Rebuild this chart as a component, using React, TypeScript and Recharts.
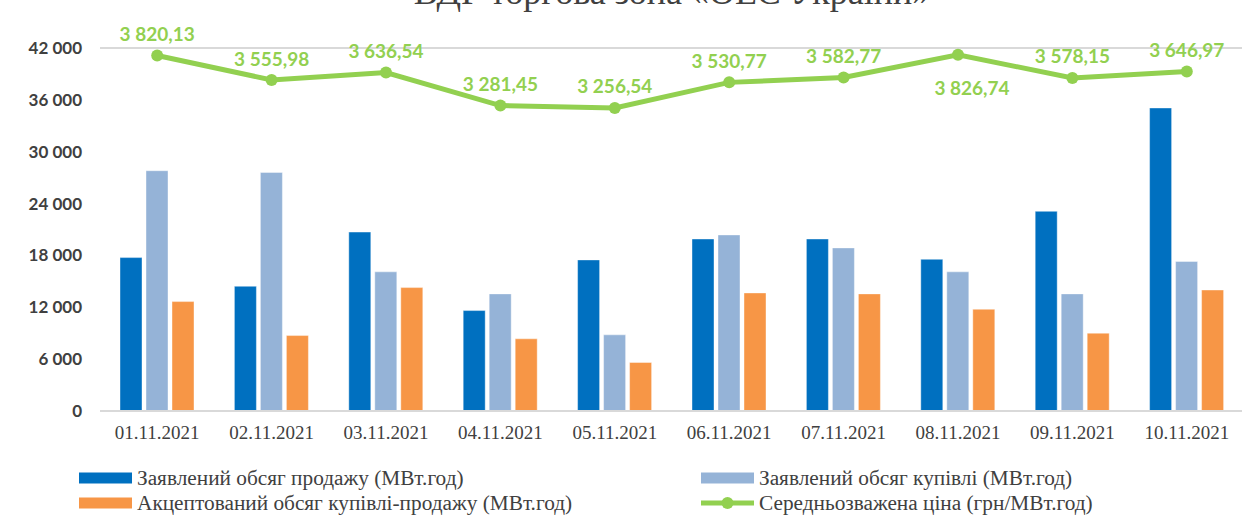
import React from "react"
import { ComposedChart, Bar, Line, XAxis, YAxis, CartesianGrid, Legend, LabelList } from "recharts"

const categories = [
  "01.11.2021",
  "02.11.2021",
  "03.11.2021",
  "04.11.2021",
  "05.11.2021",
  "06.11.2021",
  "07.11.2021",
  "08.11.2021",
  "09.11.2021",
  "10.11.2021",
]

// МВт.год
const salesDeclared = [17750, 14430, 20700, 11620, 17480, 19900, 19900, 17550, 23100, 35060]
const purchaseDeclared = [27800, 27600, 16100, 13550, 8810, 20370, 18870, 16100, 13550, 17300]
const accepted = [12660, 8730, 14280, 8350, 5610, 13660, 13550, 11770, 9000, 14000]

// грн/МВт.год
const avgPrice = [3820.13, 3555.98, 3636.54, 3281.45, 3256.54, 3530.77, 3582.77, 3826.74, 3578.15, 3646.97]

const leftTicks = [0, 6000, 12000, 18000, 24000, 30000, 36000, 42000]

const seriesNames = [
  "Заявлений обсяг продажу (МВт.год)",
  "Заявлений обсяг купівлі (МВт.год)",
  "Акцептований обсяг купівлі-продажу (МВт.год)",
  "Середньозважена ціна (грн/МВт.год)",
]

const title = "ВДР торгова зона «ОЕС України»"

const COLORS = {
  sales: "#0070C0",
  purchase: "#95B3D7",
  accepted: "#F79646",
  price: "#92D050",
}

const chartData = categories.map((date, i) => ({
  date,
  sales: salesDeclared[i],
  purchase: purchaseDeclared[i],
  accepted: accepted[i],
  price: avgPrice[i],
}))

const fmt = (v: number, decimals = 0) => {
  const [intPart, frac] = v.toFixed(decimals).split(".")
  const grouped = intPart.replace(/\B(?=(\d{3})+(?!\d))/g, " ")
  return frac ? `${grouped},${frac}` : grouped
}

const PriceLabel = (props: any) => {
  const { x, y, value, index } = props
  // the 08.11 label sits under its point
  const below = index === 7
  return (
    <text
      x={x + (below ? 14 : 0)}
      y={below ? y + 33 : y - 22}
      textAnchor="middle"
      dominantBaseline="central"
      fill={COLORS.price}
      fontFamily="Lato, sans-serif"
      fontWeight={700}
      fontSize={19}
    >
      {fmt(value, 2)}
    </text>
  )
}

const legendColumns = [79, 701]
const legendRows = [27, 52]

const ChartLegend = (props: any) => {
  const { payload } = props
  if (!payload) return null
  // keep the series order: row by row, two columns
  const ordered = seriesNames
    .map((name) => payload.find((p: any) => p.value === name))
    .filter(Boolean)
  return (
    <div style={{ position: "relative", height: 62, width: 1242 }}>
      {ordered.map((entry: any, i: number) => {
        const left = legendColumns[i % 2]
        const top = legendRows[Math.floor(i / 2)]
        const isLine = entry.type === "line"
        return (
          <div
            key={entry.value}
            style={{
              position: "absolute",
              left,
              top: top - 12,
              height: 24,
              display: "flex",
              alignItems: "center",
              whiteSpace: "nowrap",
            }}
          >
            <svg width={53} height={14} style={{ marginRight: 5 }}>
              {isLine ? (
                <>
                  <line x1={0} y1={7} x2={53} y2={7} stroke={entry.color} strokeWidth={5} />
                  <circle cx={26.5} cy={7} r={6} fill={entry.color} />
                </>
              ) : (
                <rect x={0} y={1.5} width={53} height={11} fill={entry.color} />
              )}
            </svg>
            <span
              style={{
                fontFamily: "'Liberation Serif', 'Times New Roman', serif",
                fontSize: 21.3,
                color: "#404040",
              }}
            >
              {entry.value}
            </span>
          </div>
        )
      })}
    </div>
  )
}

export default function App() {
  return (
    <div
      style={{
        position: "absolute",
        left: 0,
        top: 0,
        width: 1242,
        height: 518,
        overflow: "hidden",
        background: "#fff",
      }}
    >
      <div
        style={{
          position: "absolute",
          left: 672,
          top: -26,
          transform: "translateX(-50%)",
          whiteSpace: "nowrap",
          fontFamily: "'Liberation Serif', 'Times New Roman', serif",
          fontSize: 36,
          lineHeight: "36px",
          color: "#404040",
        }}
      >
        {title}
      </div>
      <ComposedChart
        width={1245}
        height={518}
        data={chartData}
        margin={{ top: 48, right: 1, left: 0, bottom: 5 }}
        barSize={22}
        barGap={4}
      >
        <CartesianGrid vertical={false} stroke="#D9D9D9" strokeWidth={2} />
        <XAxis
          dataKey="date"
          axisLine={{ stroke: "#D9D9D9", strokeWidth: 2 }}
          tickLine={false}
          tickSize={0}
          tickMargin={15}
          height={40}
          interval={0}
          tick={{
            fill: "#404040",
            fontSize: 19,
            fontFamily: "'Liberation Serif', 'Times New Roman', serif",
          }}
        />
        <YAxis
          yAxisId="left"
          width={100}
          domain={[0, 42000]}
          ticks={leftTicks}
          axisLine={false}
          tickLine={false}
          tickSize={0}
          tickMargin={18}
          tickFormatter={(v) => fmt(Number(v))}
          tick={{ fill: "#404040", fontSize: 17, fontWeight: 700, fontFamily: "Lato, sans-serif" }}
        />
        <YAxis yAxisId="right" orientation="right" domain={[0, 3900]} hide />
        <Legend verticalAlign="bottom" height={62} content={<ChartLegend />} />
        <Bar
          yAxisId="left"
          dataKey="sales"
          name={seriesNames[0]}
          fill={COLORS.sales}
          stroke="#ffffff"
          strokeOpacity={0.4}
          strokeWidth={1}
          isAnimationActive={false}
        />
        <Bar
          yAxisId="left"
          dataKey="purchase"
          name={seriesNames[1]}
          fill={COLORS.purchase}
          stroke="#ffffff"
          strokeOpacity={0.4}
          strokeWidth={1}
          isAnimationActive={false}
        />
        <Bar
          yAxisId="left"
          dataKey="accepted"
          name={seriesNames[2]}
          fill={COLORS.accepted}
          stroke="#ffffff"
          strokeOpacity={0.4}
          strokeWidth={1}
          isAnimationActive={false}
        />
        <Line
          yAxisId="right"
          type="linear"
          dataKey="price"
          name={seriesNames[3]}
          stroke={COLORS.price}
          strokeWidth={5}
          dot={{ r: 6, fill: COLORS.price, stroke: "none" }}
          activeDot={false}
          isAnimationActive={false}
        >
          <LabelList dataKey="price" content={<PriceLabel />} />
        </Line>
      </ComposedChart>
    </div>
  )
}
